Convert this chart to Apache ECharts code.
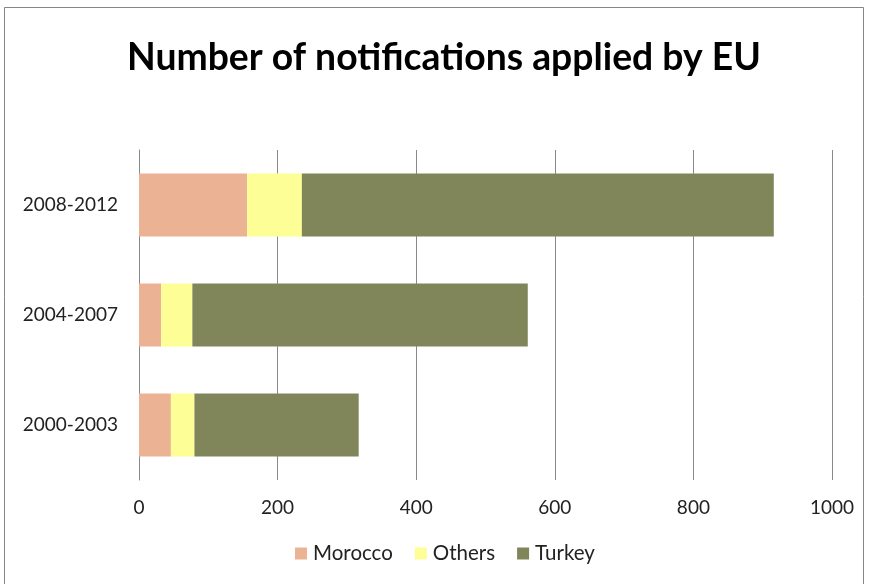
<!DOCTYPE html>
<html>
<head>
<meta charset="utf-8">
<script src="https://cdn.jsdelivr.net/npm/echarts@6/dist/echarts.min.js"></script>
<style>
  html, body { margin: 0; padding: 0; background: #ffffff; }
  #chart { width: 869px; height: 584px; }
</style>
</head>
<body>
<div id="chart"></div>
<script>
// Periods on the category axis (bottom to top)
const periods = ['2000-2003', '2004-2007', '2008-2012'];
// Notifications per origin, stacked per period
const morocco = [46, 32, 156];
const others = [34, 45, 79];
const turkey = [237, 484, 681];
// Value axis ticks
const xTicks = [0, 200, 400, 600, 800, 1000];

const labelFont = 'Lato, "Open Sans", sans-serif';

const chart = echarts.init(document.getElementById('chart'), null, { renderer: 'canvas' });

function bar(name, data, color) {
  return {
    name: name,
    type: 'bar',
    stack: 'total',
    data: data,
    barWidth: 63,
    itemStyle: { color: color },
    emphasis: { disabled: true }
  };
}

chart.setOption({
  animation: false,
  backgroundColor: '#ffffff',
  title: {
    text: 'Number of notifications applied by EU',
    left: 122,
    top: 34,
    textStyle: { fontFamily: labelFont, fontWeight: 'bold', fontSize: 37.3, color: '#000000' }
  },
  grid: { left: 139, right: 37, top: 150, bottom: 104 },
  legend: {
    bottom: 15,
    left: 290,
    itemWidth: 12,
    itemHeight: 12,
    itemGap: 22,
    icon: 'rect',
    textStyle: { fontFamily: labelFont, fontSize: 20.5, color: '#222222', padding: [0, 0, 0, 1] },
    data: ['Morocco', 'Others', 'Turkey']
  },
  xAxis: {
    type: 'value',
    min: xTicks[0],
    max: xTicks[xTicks.length - 1],
    interval: xTicks[1] - xTicks[0],
    axisLine: { show: false },
    axisTick: { show: false },
    axisLabel: {
      fontFamily: labelFont, fontSize: 19, color: '#222222', margin: 18,
      formatter: function (v) { return String(v); }
    },
    splitLine: { show: true, lineStyle: { color: '#8a8a8a', width: 1 } }
  },
  yAxis: {
    type: 'category',
    data: periods,
    axisLine: { show: true, lineStyle: { color: '#8a8a8a', width: 1 } },
    axisTick: { show: false },
    axisLabel: { fontFamily: labelFont, fontSize: 19, color: '#222222', margin: 21 }
  },
  series: [
    bar('Morocco', morocco, '#ebb293'),
    bar('Others', others, '#fefe96'),
    bar('Turkey', turkey, '#80865a')
  ],
  graphic: [{
    type: 'rect',
    shape: { x: 4.5, y: 7.5, width: 859, height: 600 },
    style: { fill: null, stroke: '#868686', lineWidth: 1 },
    silent: true
  }]
});
</script>
</body>
</html>
